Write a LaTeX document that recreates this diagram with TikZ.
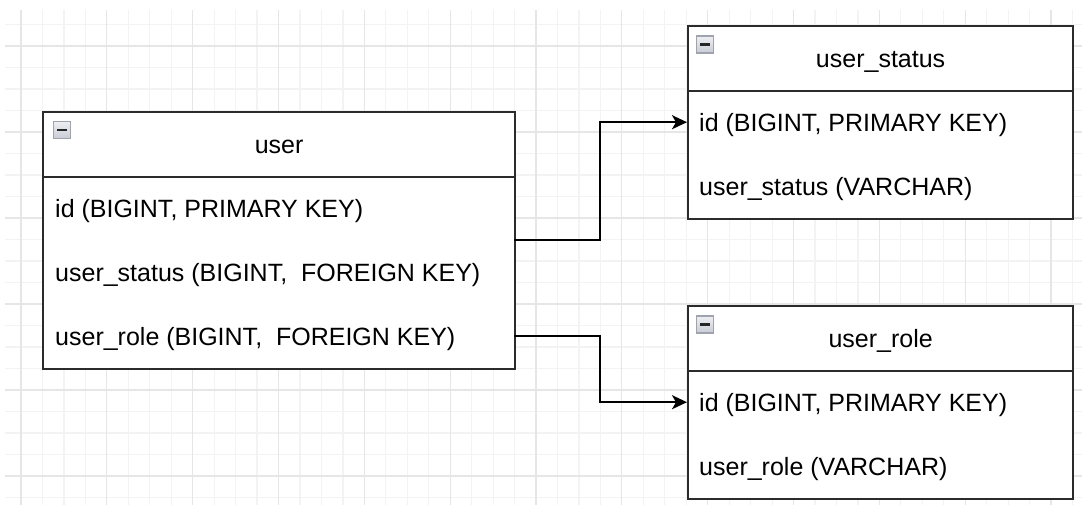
\documentclass[tikz,border=0pt]{standalone}
\usepackage{fontspec}
\setmainfont{Liberation Sans}
\usetikzlibrary{arrows.meta}
\definecolor{gridminor}{HTML}{F3F3F3}
\definecolor{gridmajor}{HTML}{E6E6E6}
\definecolor{boxline}{HTML}{2B2B2B}
\definecolor{icontop}{HTML}{EEEFF3}
\definecolor{iconbot}{HTML}{C9CCD4}
\definecolor{iconline}{HTML}{9EA3AE}
\begin{document}
\begin{tikzpicture}[x=1pt,y=-1pt,
  minorline/.style={draw=gridminor, line width=1.2pt},
  majorline/.style={draw=gridmajor, line width=1.2pt},
  tablebox/.style={draw=boxline, line width=2.2pt, fill=white, rectangle, inner sep=0pt, anchor=north west},
  hdrbox/.style={draw=boxline, line width=2.2pt, rectangle, inner sep=0pt, anchor=north west, minimum height=65},
  rowbox/.style={rectangle, inner sep=0pt, anchor=north west, minimum height=64},
  field/.style={anchor=base west, inner sep=0pt, font=\fontsize{25}{30}\selectfont, text=black},
  titletext/.style={anchor=base, inner sep=0pt, font=\fontsize{25}{30}\selectfont, text=black},
  iconbox/.style={rectangle, draw=iconline, line width=1.3pt, top color=icontop, bottom color=iconbot,
    minimum size=17, inner sep=0pt,
    path picture={\draw[line width=2.6pt, black!85]
      ([xshift=-5pt]path picture bounding box.center) -- ([xshift=5pt]path picture bounding box.center);}},
  fk/.style={draw=black, line width=2pt, -{Stealth[length=15pt,width=14pt,inset=4pt]}}
]
% background and bounds
\fill[white] (0,0) rectangle (1086,505);
\useasboundingbox (0,0) rectangle (1086,505);

% grid
\foreach \k in {0,...,49} {
  \pgfmathsetmacro\xx{21+21.46*\k}
  \draw[minorline] (\xx,10) -- (\xx,505);
}
\foreach \k in {0,...,22} {
  \pgfmathsetmacro\yy{24.5+21.5*\k}
  \draw[minorline] (5,\yy) -- (1082,\yy);
}
\foreach \k in {0,...,12} {
  \pgfmathsetmacro\xx{21+85.84*\k}
  \draw[majorline] (\xx,10) -- (\xx,505);
}
\foreach \k in {0,...,5} {
  \pgfmathsetmacro\yy{46+86*\k}
  \draw[majorline] (5,\yy) -- (1082,\yy);
}

% ---- user table
\node[tablebox, minimum width=472, minimum height=257] (user) at (42,111) {};
\node[hdrbox, minimum width=472] (userh) at (42,111) {};
\node[rowbox, minimum width=472] (uid) at (42,176) {};
\node[rowbox, minimum width=472] (ustat) at (42,240) {};
\node[rowbox, minimum width=472] (urole) at (42,304) {};
\node[iconbox] (uicon) at (62,130) {};
\node[titletext] (utitle) at ([yshift=-9pt]userh.center) {user};
\node[field] (uidt) at ([xshift=13pt,yshift=-9pt]uid.west) {id (BIGINT, PRIMARY KEY)};
\node[field] (ustatt) at ([xshift=13pt,yshift=-9pt]ustat.west) {user\_status (BIGINT,\ \ FOREIGN KEY)};
\node[field] (urolet) at ([xshift=13pt,yshift=-9pt]urole.west) {user\_role (BIGINT,\ \ FOREIGN KEY)};

% ---- user_status table
\node[tablebox, minimum width=385, minimum height=193] (status) at (687,25) {};
\node[hdrbox, minimum width=385] (statush) at (687,25) {};
\node[rowbox, minimum width=385] (sid) at (687,90) {};
\node[rowbox, minimum width=385] (sname) at (687,154) {};
\node[iconbox] (sicon) at (705,44.5) {};
\node[titletext] (stitle) at ([yshift=-9pt]statush.center) {user\_status};
\node[field] (sidt) at ([xshift=12pt,yshift=-9pt]sid.west) {id (BIGINT, PRIMARY KEY)};
\node[field] (snamet) at ([xshift=12pt,yshift=-9pt]sname.west) {user\_status (VARCHAR)};

% ---- user_role table
\node[tablebox, minimum width=385, minimum height=193] (role) at (687,305) {};
\node[hdrbox, minimum width=385] (roleh) at (687,305) {};
\node[rowbox, minimum width=385] (rid) at (687,370) {};
\node[rowbox, minimum width=385] (rname) at (687,434) {};
\node[iconbox] (ricon) at (705,324.5) {};
\node[titletext] (rtitle) at ([yshift=-9pt]roleh.center) {user\_role};
\node[field] (ridt) at ([xshift=12pt,yshift=-9pt]rid.west) {id (BIGINT, PRIMARY KEY)};
\node[field] (rnamet) at ([xshift=12pt,yshift=-9pt]rname.west) {user\_role (VARCHAR)};

% ---- connectors
\draw[fk] (uid.south east) -- ++(86,0) |- (sid.west);
\draw[fk] (urole.east) -- ++(86,0) |- (rid.west);
\end{tikzpicture}
\end{document}
